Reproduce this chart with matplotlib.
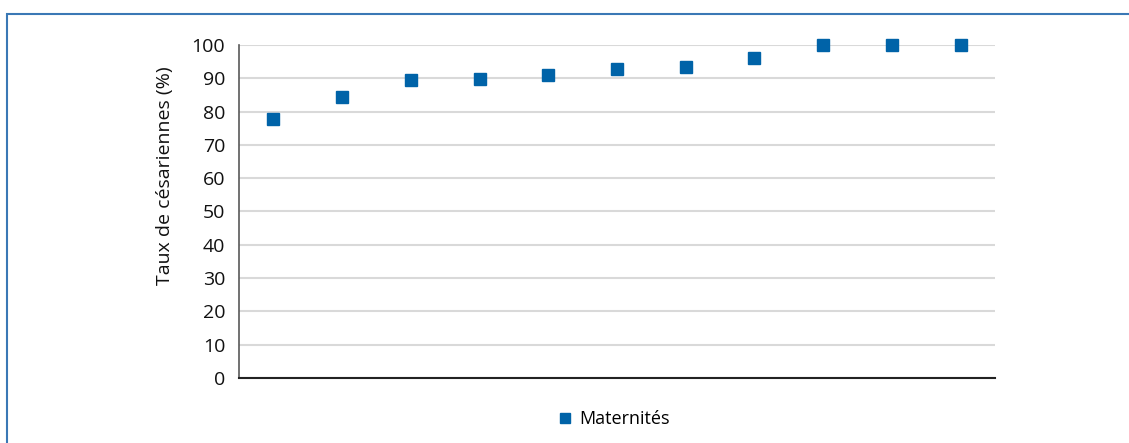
import matplotlib
matplotlib.use('Agg')
import matplotlib.pyplot as plt
from matplotlib.patches import Rectangle
from matplotlib.lines import Line2D

plt.rcParams['font.family'] = ['Open Sans', 'DejaVu Sans']

# une maternité par point, triées par taux
maternites = list(range(1, 12))
taux = [77.8, 84.4, 89.5, 89.8, 91.0, 92.8, 93.4, 96.1, 100, 100, 100]
yticks = [0, 10, 20, 30, 40, 50, 60, 70, 80, 90, 100]

bleu = '#0063a8'

fig = plt.figure(figsize=(11.29, 4.43), dpi=100)
ax = fig.add_axes([239 / 1129, 1 - 378 / 443, (995 - 239) / 1129, (378 - 45) / 443])

ax.plot(maternites, taux, linestyle='none', marker='s', markersize=8.6,
        color=bleu, clip_on=False, zorder=3)

ax.set_xlim(0.5, 11.5)
ax.set_ylim(0, 100)
ax.set_yticks(yticks)
ax.set_xticks([])
ax.grid(axis='y', color='#d9d9d9', linewidth=1.5)
ax.set_axisbelow(True)

for s in ['top', 'right']:
    ax.spines[s].set_visible(False)
ax.spines['left'].set_color('#595959')
ax.spines['left'].set_linewidth(1.2)
ax.spines['bottom'].set_color('#222222')
ax.spines['bottom'].set_linewidth(1.5)
ax.tick_params(axis='y', length=0, pad=10, labelsize=14, labelcolor='#111111')

ax.set_ylabel('Taux de césariennes (%)', fontsize=14, color='#111111')
ax.yaxis.set_label_coords(-0.086, 0.607)

poignee = Line2D([], [], linestyle='none', marker='s', markersize=7.5, color=bleu)
fig.legend([poignee], ['Maternités'], loc='center',
           bbox_to_anchor=(612 / 1129, 1 - 419 / 443), frameon=False,
           fontsize=13, handletextpad=0.2, handlelength=1.2)

# cadre bleu autour de la figure (coupé à droite et en bas)
fig.patches.append(Rectangle((7 / 1129, -0.2), 1.2, 1.2 - 14 / 443,
                             transform=fig.transFigure, fill=False,
                             edgecolor='#3a78b5', linewidth=1.5))

fig.savefig('out.png', dpi=100)
